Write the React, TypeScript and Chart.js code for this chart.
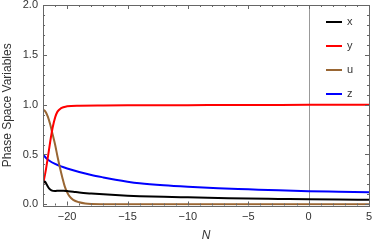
import React, { useEffect, useRef } from "react";
import { Chart, registerables } from "chart.js";
Chart.register(...registerables);

const labels = ["x", "y", "u", "z"];
const colors = ["#000000", "#ff0000", "#996633", "#0000ff"];

const nX = [-22, -21.85, -21.7, -21.5, -21.3, -21, -20.7, -20.3, -20, -19.5, -19, -18, -17, -16, -15, -14, -12, -10, -7.5, -5, -2.5, 0, 2.5, 5];
const xVals = [0.21, 0.228, 0.2, 0.16, 0.14, 0.133, 0.137, 0.137, 0.133, 0.126, 0.118, 0.108, 0.1, 0.093, 0.087, 0.082, 0.075, 0.07, 0.064, 0.058, 0.054, 0.05, 0.047, 0.045];

const nY = [-22, -21.8, -21.6, -21.4, -21.2, -21, -20.8, -20.5, -20, -19, -17, -15, -10, -5, 0, 5];
const yVals = [0.2, 0.32, 0.47, 0.63, 0.77, 0.87, 0.93, 0.965, 0.983, 0.99, 0.992, 0.993, 0.995, 0.997, 0.998, 0.999];

const nU = [-22, -21.8, -21.6, -21.4, -21.2, -21, -20.8, -20.6, -20.4, -20.2, -20, -19.8, -19.5, -19, -18.5, -18, -17, -15, -10, 0, 5];
const uVals = [0.95, 0.93, 0.88, 0.8, 0.7, 0.6, 0.48, 0.37, 0.27, 0.18, 0.12, 0.08, 0.045, 0.02, 0.008, 0.003, 0.001, 0, 0, 0, 0];

const nZ = [-22, -21.75, -21.5, -21, -20.5, -20, -19, -18, -17, -16, -15, -14, -12, -10, -7.5, -5, -2.5, 0, 2.5, 5];
const zVals = [0.5, 0.465, 0.44, 0.405, 0.38, 0.36, 0.325, 0.295, 0.27, 0.247, 0.227, 0.211, 0.19, 0.175, 0.16, 0.15, 0.14, 0.132, 0.126, 0.12];

const xTicks = [-20, -15, -10, -5, 0, 5];
const yTicks = [0, 0.5, 1, 1.5, 2];
const xMinor = [-22, -21, -19, -18, -17, -16, -14, -13, -12, -11, -9, -8, -7, -6, -4, -3, -2, -1, 1, 2, 3, 4];
const yMinor = [0.1, 0.2, 0.3, 0.4, 0.6, 0.7, 0.8, 0.9, 1.1, 1.2, 1.3, 1.4, 1.6, 1.7, 1.8, 1.9];

const seriesN = [nX, nY, nU, nZ];
const seriesV = [xVals, yVals, uVals, zVals];

const FRAME = "#666666";

const framePlugin = {
  id: "frameTicks",
  beforeDatasetsDraw(chart: any) {
    const { ctx, chartArea: a, scales } = chart;
    const px = scales.x.getPixelForValue(0);
    ctx.save();
    ctx.strokeStyle = "#999999";
    ctx.lineWidth = 1;
    ctx.beginPath();
    ctx.moveTo(Math.round(px) + 0.5, a.top);
    ctx.lineTo(Math.round(px) + 0.5, a.bottom);
    ctx.stroke();
    ctx.restore();
  },
  afterDatasetsDraw(chart: any) {
    const { ctx, chartArea: a, scales } = chart;
    const sx = scales.x;
    const sy = scales.y;
    ctx.save();
    ctx.strokeStyle = FRAME;
    ctx.lineWidth = 1;
    ctx.strokeRect(Math.round(a.left) + 0.5, Math.round(a.top) + 0.5, Math.round(a.right - a.left), Math.round(a.bottom - a.top));
    ctx.beginPath();
    const vx = (v: number, len: number) => {
      const p = Math.round(sx.getPixelForValue(v)) + 0.5;
      ctx.moveTo(p, a.bottom);
      ctx.lineTo(p, a.bottom - len);
      ctx.moveTo(p, a.top);
      ctx.lineTo(p, a.top + len);
    };
    const vy = (v: number, len: number) => {
      const p = Math.round(sy.getPixelForValue(v)) + 0.5;
      ctx.moveTo(a.left, p);
      ctx.lineTo(a.left + len, p);
      ctx.moveTo(a.right, p);
      ctx.lineTo(a.right - len, p);
    };
    xTicks.forEach((v) => vx(v, 4));
    xMinor.forEach((v) => vx(v, 2));
    yTicks.forEach((v) => vy(v, 4));
    yMinor.forEach((v) => vy(v, 2));
    ctx.stroke();

    // legend
    ctx.font = "11px 'Liberation Sans', Arial, sans-serif";
    ctx.textBaseline = "middle";
    ctx.textAlign = "left";
    chart.data.datasets.forEach((ds: any, i: number) => {
      const y = 22 + i * 24;
      ctx.strokeStyle = ds.borderColor;
      ctx.lineWidth = 2;
      ctx.beginPath();
      ctx.moveTo(326, y);
      ctx.lineTo(342, y);
      ctx.stroke();
      ctx.fillStyle = "#333333";
      ctx.fillText(ds.label, 347, y);
    });
    ctx.restore();
  },
};

const fmtX = (v: number) => (v < 0 ? "\u2212" + Math.abs(v) : String(v));

export default function App() {
  const ref = useRef<HTMLCanvasElement>(null);
  useEffect(() => {
    const chart = new Chart(ref.current!, {
      type: "line",
      data: {
        datasets: labels.map((l, i) => ({
          label: l,
          data: seriesN[i].map((n, j) => ({ x: n, y: seriesV[i][j] })),
          borderColor: colors[i],
          backgroundColor: colors[i],
          borderWidth: 2,
          pointRadius: 0,
          cubicInterpolationMode: "monotone" as const,
          fill: false,
        })),
      },
      options: {
        animation: false,
        responsive: true,
        maintainAspectRatio: false,
        layout: { padding: { top: 5, right: 5, left: 0, bottom: 0 } },
        plugins: { legend: { display: false }, tooltip: { enabled: false } },
        scales: {
          x: {
            type: "linear",
            min: -22,
            max: 5,
            afterBuildTicks: (s: any) => {
              s.ticks = xTicks.map((v) => ({ value: v }));
            },
            afterFit: (s: any) => {
              s.height = 40.5;
              s.paddingLeft = 0;
              s.paddingRight = 0;
            },
            grid: { display: false, drawTicks: false },
            border: { display: false },
            ticks: {
              padding: 5,
              maxRotation: 0,
              color: "#333333",
              font: { size: 11, family: "'Liberation Sans', Arial, sans-serif" },
              callback: (v: any) => fmtX(Number(v)),
            },
            title: {
              display: true,
              text: "N",
              color: "#333333",
              padding: { top: 0, bottom: 3 },
              font: { size: 12, style: "italic", family: "'Liberation Sans', Arial, sans-serif" },
            },
          },
          y: {
            type: "linear",
            min: -0.012,
            max: 2.0,
            afterBuildTicks: (s: any) => {
              s.ticks = yTicks.map((v) => ({ value: v }));
            },
            afterFit: (s: any) => {
              s.width = 43;
              s.paddingTop = 0;
              s.paddingBottom = 0;
            },
            grid: { display: false, drawTicks: false },
            border: { display: false },
            ticks: {
              padding: 5,
              color: "#333333",
              font: { size: 11, family: "'Liberation Sans', Arial, sans-serif" },
              callback: (v: any) => Number(v).toFixed(1),
            },
            title: {
              display: true,
              text: "Phase Space Variables",
              color: "#333333",
              padding: { top: 0, bottom: 0 },
              font: { size: 12, family: "'Liberation Sans', Arial, sans-serif" },
            },
          },
        },
      },
      plugins: [framePlugin],
    });
    return () => chart.destroy();
  }, []);
  return (
    <div style={{ position: "fixed", left: 0, top: 0, width: 374, height: 246, background: "#fff" }}>
      <canvas ref={ref} />
    </div>
  );
}
